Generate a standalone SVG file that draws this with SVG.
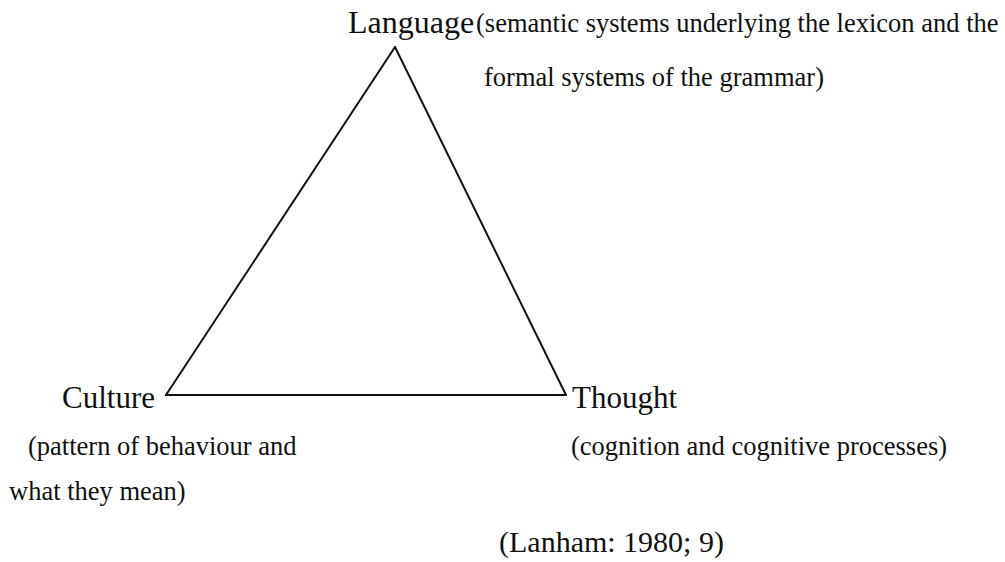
<svg xmlns="http://www.w3.org/2000/svg" width="1005" height="562" viewBox="0 0 1005 562">
<style>
.t{font-family:"Liberation Serif","Times New Roman",serif;fill:#111}
.big{font-size:31px}
.small{font-size:26.5px}
.edge{stroke:#111;stroke-width:2;fill:none;stroke-linecap:round}
</style>
<rect width="1005" height="562" fill="#fff"/>
<g id="connectors">
<line class="edge" x1="395" y1="47" x2="166" y2="395"/>
<line class="edge" x1="395" y1="47" x2="566" y2="395"/>
<line class="edge" x1="166" y1="395" x2="566" y2="395"/>
</g>
<g id="language">
<text class="t big" x="348" y="33" style="font-size:32px">Language</text>
<text class="t small" x="476" y="32">(semantic systems underlying the lexicon and the</text>
<text class="t small" x="484" y="86">formal systems of the grammar)</text>
</g>
<g id="culture">
<text class="t big" x="62" y="408">Culture</text>
<text class="t small" x="28" y="455">(pattern of behaviour and</text>
<text class="t small" x="9" y="500">what they mean)</text>
</g>
<g id="thought">
<text class="t big" x="572" y="408">Thought</text>
<text class="t small" x="571" y="455">(cognition and cognitive processes)</text>
</g>
<g id="citation">
<text class="t big" x="499" y="552" style="font-size:30px">(Lanham: 1980; 9)</text>
</g>
</svg>
